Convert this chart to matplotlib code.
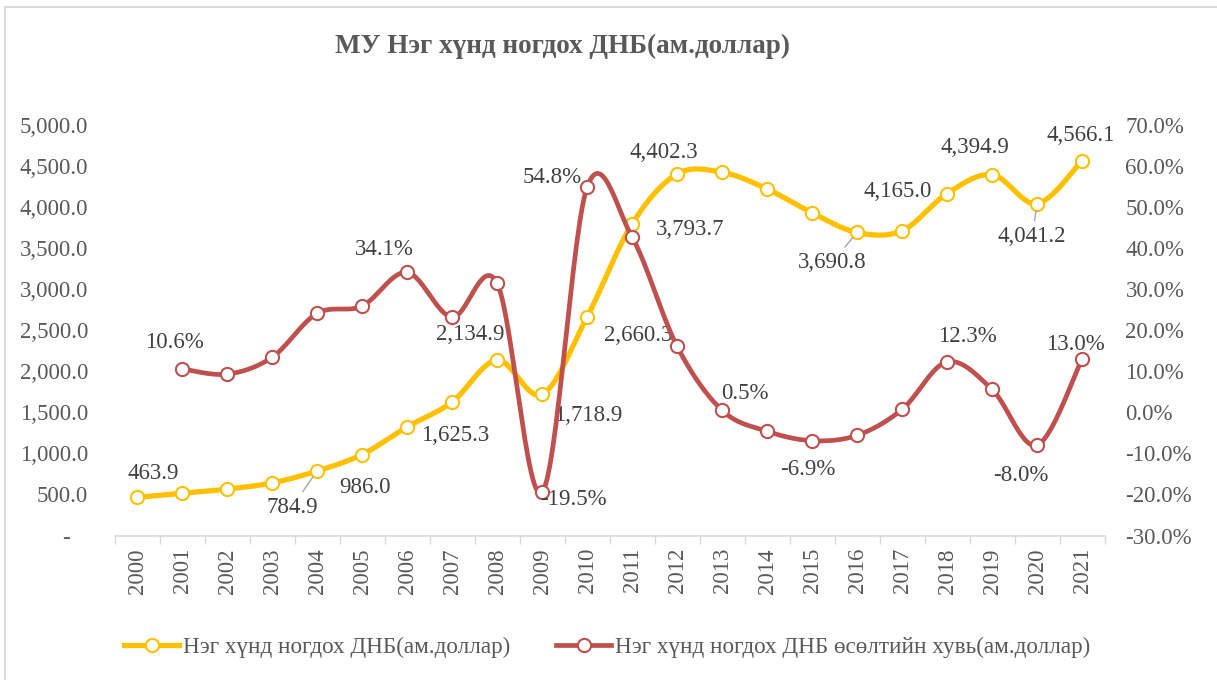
import matplotlib.pyplot as plt
import numpy as np
from matplotlib.lines import Line2D
from matplotlib.ticker import FuncFormatter

plt.rcParams['font.family'] = ['Liberation Serif', 'DejaVu Serif']

# ---------- data ----------
years = list(range(2000, 2022))
gdp_pc = [463.9, 515, 565, 640, 784.9, 986.0, 1322, 1625.3, 2134.9, 1718.9,
          2660.3, 3793.7, 4402.3, 4424, 4221, 3930, 3690.8, 3712, 4165.0,
          4394.9, 4041.2, 4566.1]
growth = [np.nan, 10.6, 9.3, 13.4, 24.1, 25.9, 34.1, 23.2, 31.5, -19.5,
          54.8, 42.7, 16.1, 0.5, -4.6, -6.9, -5.6, 0.7, 12.3, 5.6, -8.0, 13.0]

name_gdp = 'Нэг хүнд ногдох ДНБ(ам.доллар)'
name_growth = 'Нэг хүнд ногдох ДНБ өсөлтийн хувь(ам.доллар)'
title = 'МУ Нэг хүнд ногдох ДНБ(ам.доллар)'

# label placement (pixel offsets from the point), years that carry a label
gdp_labels = {2000: (16, 24), 2004: (-25, -36), 2005: (3, -33), 2007: (3, -33),
              2008: (-27, 26), 2009: (46, -21), 2010: (51, -18), 2011: (58, -5),
              2012: (-13, 22), 2016: (-25, -30), 2018: (-49, 2), 2019: (-17, 27),
              2020: (-5, -33), 2021: (-1, 25)}
gdp_leaders = [2004, 2016, 2020]
growth_labels = {2001: (-8, 26), 2006: (-23, 23), 2009: (31, -7), 2010: (-35, 10),
                 2013: (23, 17), 2015: (-4, -29), 2018: (20, 25), 2020: (-16, -30),
                 2021: (-7, 14)}

yellow = '#FFC000'
red = '#C0504D'
tick_col = '#595959'
lab_col = '#404040'
grid_col = '#D9D9D9'
fs = 16.5


def smooth(xs, ys, n=30):
    # Excel-like smoothed line: cubic bezier through the points
    xs = np.asarray(xs, float)
    ys = np.asarray(ys, float)
    ox, oy = [], []
    m = len(xs)
    for i in range(m - 1):
        p0 = np.array([xs[max(i - 1, 0)], ys[max(i - 1, 0)]])
        p1 = np.array([xs[i], ys[i]])
        p2 = np.array([xs[i + 1], ys[i + 1]])
        p3 = np.array([xs[min(i + 2, m - 1)], ys[min(i + 2, m - 1)]])
        c1 = p1 + (p2 - p0) / 6
        c2 = p2 - (p3 - p1) / 6
        t = np.linspace(0, 1, n)[:, None]
        b = ((1 - t) ** 3) * p1 + 3 * ((1 - t) ** 2) * t * c1 + 3 * (1 - t) * t ** 2 * c2 + t ** 3 * p2
        ox.extend(b[:, 0])
        oy.extend(b[:, 1])
    return np.array(ox), np.array(oy)


fig = plt.figure(figsize=(12.17, 6.80), dpi=100)
ax = fig.add_axes([0.0941, 0.2125, 0.8135, 0.6037])
ax2 = ax.twinx()

x = np.arange(len(years))

# yellow series (left axis)
sx, sy = smooth(x, gdp_pc)
ax.plot(sx, sy, color=yellow, lw=3.8, solid_capstyle='round', zorder=2)
ax.plot(x, gdp_pc, ls='none', marker='o', ms=9.5, mfc='white', mec=yellow, mew=1.5, zorder=3)

# red series (right axis)
g = np.array(growth)
ok = ~np.isnan(g)
rx, ry = smooth(x[ok], g[ok])
ax2.plot(rx, ry, color=red, lw=3.4, solid_capstyle='round', zorder=2)
ax2.plot(x[ok], g[ok], ls='none', marker='o', ms=9.5, mfc='white', mec=red, mew=1.5, zorder=3)

ax.set_xlim(-0.5, len(years) - 0.5)
ax.set_ylim(0, 5000)
ax2.set_ylim(-30, 70)
ax.set_yticks(np.arange(0, 5001, 500))
ax2.set_yticks(np.arange(-30, 71, 10))
ax.yaxis.set_major_formatter(FuncFormatter(lambda v, p: '-   ' if v == 0 else f'{v:,.1f}'))
ax2.yaxis.set_major_formatter(FuncFormatter(lambda v, p: f'{v:.1f}%'))
ax.tick_params(axis='y', length=0, pad=19, labelsize=fs, labelcolor=tick_col)
ax2.tick_params(axis='y', length=0, pad=15, labelsize=fs, labelcolor=tick_col)

# category axis: ticks between categories, labels at centers
ax.set_xticks(np.arange(-0.5, len(years), 1))
ax.set_xticklabels([])
ax.tick_params(axis='x', which='major', length=6, width=1, color=grid_col)
ax.set_xticks(x, minor=True)
ax.set_xticklabels([str(y) for y in years], minor=True, rotation=90, fontsize=fs, color=tick_col)
ax.tick_params(axis='x', which='minor', length=0, pad=9)

for a in (ax, ax2):
    for s in ('top', 'left', 'right'):
        a.spines[s].set_visible(False)
ax2.spines['bottom'].set_visible(False)
ax.spines['bottom'].set_color(grid_col)
ax.spines['bottom'].set_linewidth(1.2)

# data labels
for yr, (dx, dy) in gdp_labels.items():
    i = years.index(yr)
    ap = None
    if yr in gdp_leaders:
        ap = dict(arrowstyle='-', color='#A6A6A6', lw=1.0, shrinkA=2, shrinkB=5)
    ax.annotate(f'{gdp_pc[i]:,.1f}', (i, gdp_pc[i]), xytext=(dx, dy), textcoords='offset pixels',
                ha='center', va='center', fontsize=fs, color=lab_col, arrowprops=ap, zorder=5)
for yr, (dx, dy) in growth_labels.items():
    i = years.index(yr)
    ax2.annotate(f'{growth[i]:.1f}%', (i, growth[i]), xytext=(dx, dy), textcoords='offset pixels',
                 ha='center', va='center', fontsize=fs, color=lab_col, zorder=5)

fig.text(0.4626, 0.932, title, ha='center', va='center', fontsize=19.5, fontweight='bold', color=tick_col)

handles = [Line2D([], [], color=yellow, lw=3.8, marker='o', ms=9.5, mfc='white', mec=yellow, mew=1.5),
           Line2D([], [], color=red, lw=3.4, marker='o', ms=9.5, mfc='white', mec=red, mew=1.5)]
fig.legend(handles, [name_gdp, name_growth], loc='center', bbox_to_anchor=(0.499, 0.048), ncol=2,
           frameon=False, fontsize=16.7, handlelength=2.35, handletextpad=0.17, columnspacing=2.0,
           labelcolor=tick_col)

# chart border (top/left visible)
fig.add_artist(Line2D([5 / 1217, 5 / 1217], [0, 1 - 7 / 680], color=grid_col, lw=1.5))
fig.add_artist(Line2D([5 / 1217, 1], [1 - 7 / 680, 1 - 7 / 680], color=grid_col, lw=1.5))

fig.savefig('out.png', dpi=100)
